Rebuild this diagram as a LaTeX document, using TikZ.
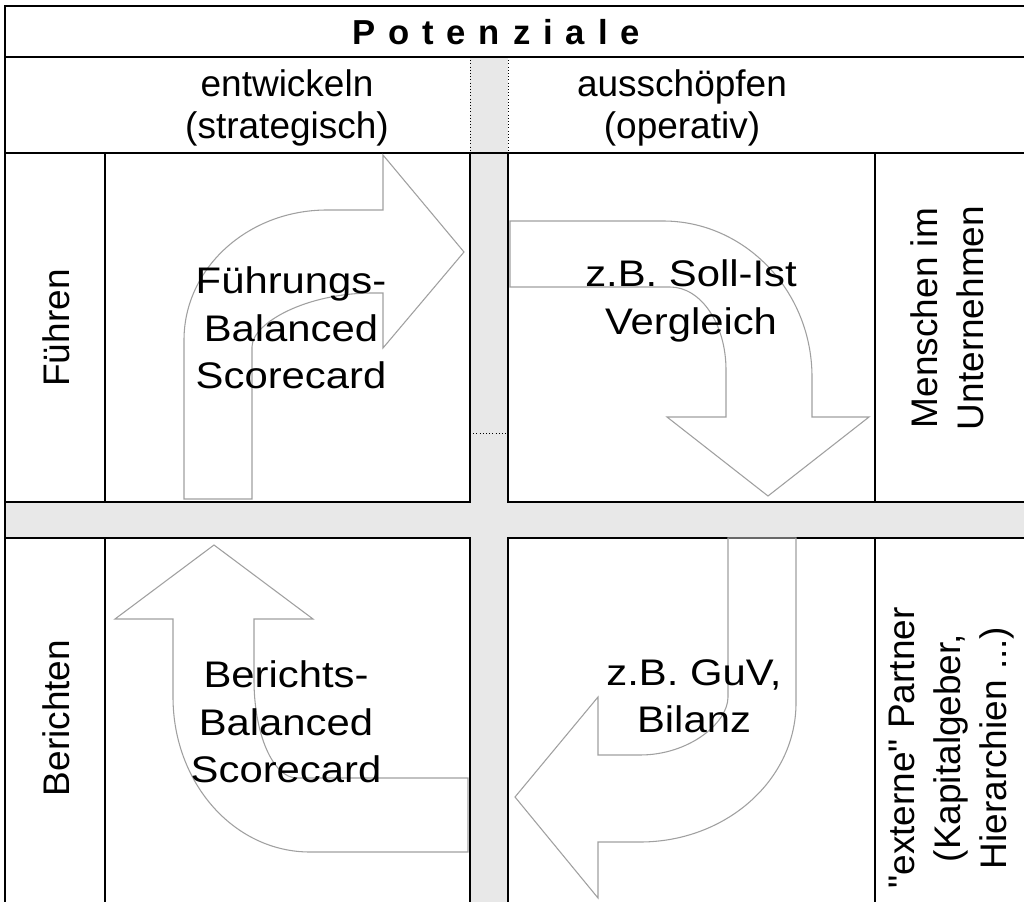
\documentclass[tikz,border=0pt]{standalone}
\usepackage{fontspec}
\setmainfont{Liberation Sans}[Ligatures=TeXOff]
\usepackage{graphicx}
\definecolor{bandgray}{RGB}{232,232,232}
\definecolor{arrowgray}{RGB}{160,160,160}
\newcommand\gap{\hspace{9.7pt}}
\newcommand\wider[1]{\scalebox{1.13}[1]{#1}}

\begin{document}
\begin{tikzpicture}[x=0.75pt, y=-0.75pt, line join=miter,
	rule/.style={draw=black, line width=1.5pt},
	bentarrow/.style={draw=arrowgray, line width=0.8pt},
	titletext/.style={inner sep=0pt, font=\fontsize{26}{29}\selectfont\bfseries},
	headtext/.style={align=center, inner sep=0pt, font=\fontsize{27.75}{31.5}\selectfont},
	celltext/.style={align=center, inner sep=0pt, font=\fontsize{27.75}{35.5}\selectfont},
	sidetext/.style={align=center, inner sep=0pt, rotate=90, font=\fontsize{27.75}{34.5}\selectfont}]
	
	% Define bounding box
	\def\xmax{1024} \def\ymax{902}
	\useasboundingbox (0,0) rectangle (\xmax,\ymax);
	\clip (0,0) rectangle (\xmax,\ymax);
	\fill[white] (0,0) rectangle (\xmax,\ymax);
	
	% Gray bands between the quadrants
	\fill[bandgray] (470,57) rectangle (508,910);
	\fill[bandgray] (5,502) rectangle (1030,538);
	
	% Title and header rows
	\draw[rule] (1030,6) -- (5,6) -- (5,910);
	\draw[rule] (5,57) -- (1030,57);
	\draw[rule] (5,153) -- (1030,153);
	\draw[dotted] (470,57) -- (470,153);
	\draw[dotted] (508,57) -- (508,153);
	\draw[dotted] (470,433) -- (508,433);
	
	% Quadrant boxes
	\foreach \ytop/\ybot in {153/502, 538/910} {
		\draw[rule] (5,\ytop) rectangle (105,\ybot);
		\draw[rule] (105,\ytop) rectangle (470,\ybot);
		\draw[rule] (508,\ytop) rectangle (875,\ybot);
		\draw[rule] (875,\ytop) rectangle (1030,\ybot);
	}
	
	% Bent arrows
	\draw[bentarrow] (184,499) -- (184,340) .. controls (184,268) and (248,210) .. (327,210)
		-- (383,210) -- (383,155) -- (464,252) -- (383,348) -- (383,293) -- (373,293)
		.. controls (306,293) and (252,323) .. (252,347) -- (252,499) -- cycle;
	\draw[bentarrow] (510,221) -- (663,221) .. controls (745,221) and (812,291) .. (812,377)
		-- (812,417) -- (869,417) -- (768,496) -- (667,417) -- (726,417) -- (726,370)
		.. controls (726,324) and (701,287) .. (670,287) -- (510,287) -- cycle;
	\draw[bentarrow] (214,545) -- (313,619) -- (254,619) -- (254,680)
		.. controls (254,734) and (273,778) .. (297,778) -- (468,778) -- (468,852) -- (310,852)
		.. controls (234,852) and (173,783) .. (173,697) -- (173,619) -- (115,619) -- cycle;
	\draw[bentarrow] (728,538) -- (796,538) -- (796,703) .. controls (796,780) and (726,842) .. (640,842)
		-- (598,842) -- (598,898) -- (515,797) -- (598,697) -- (598,755) -- (640,755)
		.. controls (689,755) and (728,723) .. (728,697) -- cycle;
	
	% Texts
	\node[titletext] (title) at (496,32) {P\gap o\gap t\gap e\gap n\gap z\gap i\gap a\gap l\gap e};
	\node[headtext] (develop) at (287,108) {entwickeln\\(strategisch)};
	\node[headtext] (exploit) at (682,108) {ausschöpfen\\(operativ)};
	
	\node[celltext] (leadcard) at (291,328) {\wider{Führungs-}\\\wider{Balanced}\\\wider{Scorecard}};
	\node[celltext] (target) at (691,301) {\wider{z.B. Soll-Ist}\\\wider{Vergleich}};
	\node[celltext] (reportcard) at (286,722) {\wider{Berichts-}\\\wider{Balanced}\\\wider{Scorecard}};
	\node[celltext] (balance) at (694,696) {\wider{z.B. GuV,}\\\wider{Bilanz}};
	
	\node[sidetext] (leading) at (56,328) {Führen};
	\node[sidetext] (reporting) at (56,718) {Berichten};
	\node[sidetext] (staff) at (947.5,318) {Menschen im\\Unternehmen};
	\node[sidetext] (partners) at (952,748) {"externe" Partner\\(Kapitalgeber,\\Hierarchien ...)};
	
\end{tikzpicture}
\end{document}
